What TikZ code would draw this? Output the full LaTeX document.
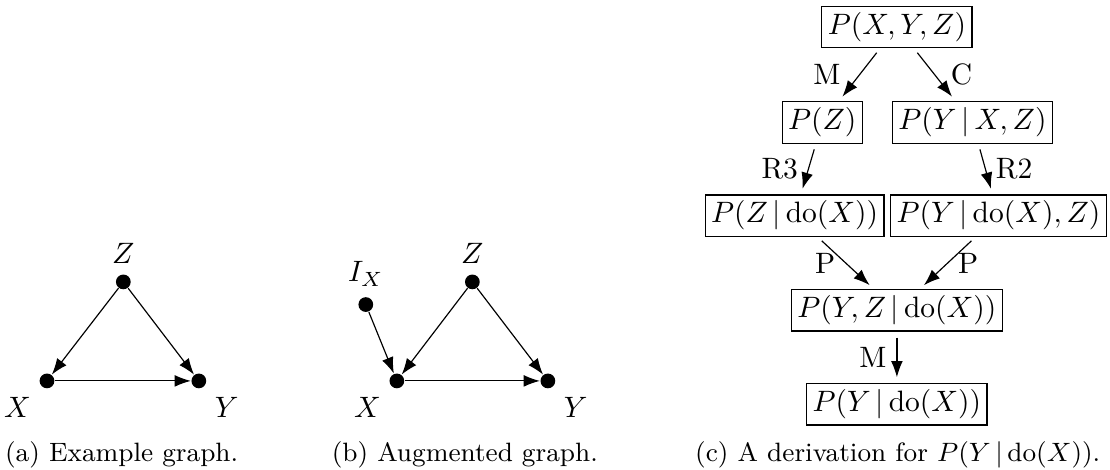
\documentclass[tikz,border=0pt]{standalone}
\usepackage{amsmath}
\usetikzlibrary{positioning,arrows.meta}
\tikzset{>={Latex[length=5.5pt,width=4pt]},
  dot/.style={circle,fill,inner sep=0pt,minimum size=5pt},
  term/.style={draw,inner sep=2pt},
  rule/.style={->,shorten >=2pt,shorten <=2pt},
  subcap/.style={anchor=base,font=\small}
}
\newcommand{\doop}{\mathrm{do}}
\newcommand{\given}{\,|\,}

\begin{document}
\begin{tikzpicture}
  \useasboundingbox (0,0) rectangle (13.23,5.60);

  % (a) example graph
    \node[dot, label=above:$Z$] (za) at (1.47,2.24) {};
    \node[dot, label=below left:$X$] (xa) at (0.56,1.06) {};
    \node[dot, label=below right:$Y$] (ya) at (2.37,1.06) {};
    \draw[->] (za) -- (xa);
    \draw[->] (za) -- (ya);
    \draw[->] (xa) -- (ya);
    \node[subcap] (capa) at (1.45,0.10) {(a) Example graph.};

  % (b) augmented graph
    \node[dot, label=above:$I_X$] (ib) at (4.36,1.97) {};
    \node[dot, label=above:$Z$] (zb) at (5.63,2.24) {};
    \node[dot, label=below left:$X$] (xb) at (4.73,1.06) {};
    \node[dot, label=below right:$Y$] (yb) at (6.53,1.06) {};
    \draw[->] (ib) -- (xb);
    \draw[->] (zb) -- (xb);
    \draw[->] (zb) -- (yb);
    \draw[->] (xb) -- (yb);
    \node[subcap] (capb) at (5.54,0.10) {(b) Augmented graph.};

  % (c) derivation
    \node[term] (joint) at (10.69,5.28) {$P(X,Y,Z)$};
    \node[term] (pz) at (9.80,4.14) {$P(Z)$};
    \node[term] (pycond) at (11.59,4.14) {$P(Y\given X,Z)$};
    \node[term] (pzdo) at (9.47,3.03) {$P(Z\given\doop(X))$};
    \node[term] (pydo) at (11.90,3.03) {$P(Y\given\doop(X),Z)$};
    \node[term] (pyzdo) at (10.69,1.90) {$P(Y,Z\given\doop(X))$};
    \node[term] (target) at (10.69,0.78) {$P(Y\given\doop(X))$};

    \draw[rule] (joint) -- node[left=3pt] {M} (pz);
    \draw[rule] (joint) -- node[right=2pt] {C} (pycond);
    \draw[rule] (pz) -- node[left] {R3} (pzdo);
    \draw[rule] (pycond) -- node[right] {R2} (pydo);
    \draw[rule] (pzdo) -- node[left] {P} (pyzdo);
    \draw[rule] (pydo) -- node[right] {P} (pyzdo);
    \draw[rule] (pyzdo) -- node[left] {M} (target);
    \node[subcap] (capc) at (10.70,0.10) {(c) A derivation for $P(Y\given\doop(X))$.};

\end{tikzpicture}
\end{document}
